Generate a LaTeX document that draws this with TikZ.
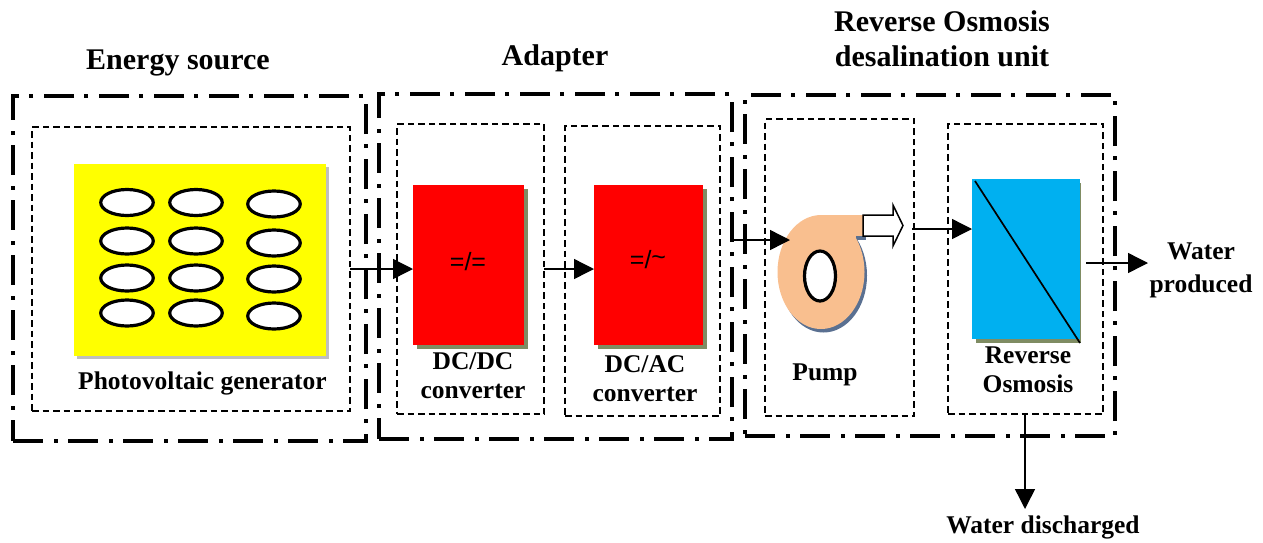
\documentclass[tikz,border=0pt]{standalone}
\usepackage{fontspec}
\setmainfont{Liberation Serif}
\setsansfont{Liberation Sans}
\usetikzlibrary{arrows.meta,shapes.geometric,calc}
\definecolor{panelyellow}{RGB}{255,255,0}
\definecolor{convred}{RGB}{255,0,0}
\definecolor{shadowgreen}{HTML}{7F8C63}
\definecolor{rowater}{HTML}{00B0F0}
\definecolor{pumpbody}{HTML}{F9BF8F}
\definecolor{pumpshadow}{HTML}{5A7091}
\tikzset{
  boxnode/.style={inner sep=0pt,outer sep=0pt},
  outerbox/.style={boxnode,draw=black,line width=3.4pt,dash pattern=on 30pt off 11pt on 4pt off 10pt},
  innerbox/.style={boxnode,draw=black,line width=1.2pt,dash pattern=on 6.5pt off 4pt},
  gencell/.style={boxnode,ellipse,draw=black,line width=3.2pt,fill=white,minimum width=52.5pt,minimum height=26pt},
  conv/.style={boxnode,fill=convred,minimum width=111pt,minimum height=160pt},
  title/.style={inner sep=0pt,font=\fontsize{30}{35}\selectfont\bfseries,align=center},
  label/.style={inner sep=0pt,font=\fontsize{25.5}{29}\selectfont\bfseries,align=center},
  symb/.style={inner sep=0pt,font=\sffamily\fontsize{25}{30}\selectfont},
  flow/.style={line width=1.4pt,-{Triangle[length=20pt,width=20pt]}},
}
\begin{document}
\begin{tikzpicture}[x=1pt,y=-1pt]
\useasboundingbox (0,0) rectangle (1263,542);
% outer groups
\node[outerbox,minimum width=353pt,minimum height=345pt] (g1) at (189.5,268.5) {};
\node[outerbox,minimum width=353pt,minimum height=345pt] (g2) at (555.5,266.5) {};
\node[outerbox,minimum width=370pt,minimum height=341pt] (g3) at (930,265.5) {};
% inner groups
\node[innerbox,minimum width=318pt,minimum height=284pt] (pv) at (191,269) {};
\node[innerbox,minimum width=147pt,minimum height=290pt] (dcdcbox) at (470.5,269) {};
\node[innerbox,minimum width=155pt,minimum height=290pt] (dcacbox) at (642.5,271) {};
\node[innerbox,minimum width=149pt,minimum height=297pt] (pumpbox) at (839.5,267.5) {};
\node[innerbox,minimum width=155pt,minimum height=290pt] (robox) at (1025.5,269) {};
% PV panel
\fill[black!25] (77,167) rectangle (329,359);
\node[boxnode,fill=panelyellow,minimum width=252pt,minimum height=192pt] (panel) at (200,260) {};
\foreach \n/\cx/\cy in {a/127/202.5,b/196/202.5,c/274/204,d/127/241,e/196/241,f/274/243,g/127/278,h/196/278,i/274/279,j/127/313,k/196/313,l/274/316}
  \node[gencell] (cell\n) at (\cx,\cy) {};
% converters
\fill[shadowgreen] (417,189) rectangle (528,349);
\node[conv] (dcdc) at (468.5,265) {};
\fill[shadowgreen] (598,189) rectangle (707,349);
\node[conv,minimum width=109pt] (dcac) at (648.5,265) {};
\node[symb] (sym1) at (468,262) {=/=};
\node[symb] (sym2) at (648,260) {=/\raisebox{3pt}{\textasciitilde}};
% pump
\fill[pumpshadow] (823.5,275.5) ellipse [x radius=43.5, y radius=57];
\fill[pumpshadow] (856,236) rectangle (866,240);
\fill[pumpbody] (821,272) ellipse [x radius=43.5, y radius=57];
\fill[pumpbody] (818,215) rectangle (863,236);
\fill[pumpbody] (830,225) rectangle (856,240);
\node[boxnode,ellipse,draw=black,line width=3.2pt,fill=white,minimum width=31pt,minimum height=50pt] (hub) at (820,276) {};
\draw[line width=1.5pt,fill=white,line join=miter] (863,215) -- (893,215) -- (893,205) -- (903,225.5) -- (893,246) -- (893,236) -- (863,236) -- cycle;
% RO membrane
\fill[shadowgreen] (976,183) rectangle (1081,343);
\node[boxnode,fill=rowater,minimum width=108pt,minimum height=160pt] (ro) at (1026,259) {};
\coordinate (roa) at (975,181);
\coordinate (rob) at (1080,343);
\draw[line width=1.7pt] (roa) -- (rob);
% connectors
\coordinate (s3) at (730,240);
\coordinate (pumpin) at (790,240);
\coordinate (s4) at (912,229);
\coordinate (s5) at (1086,263);
\coordinate (e5) at (1148,263);
\coordinate (e6) at (1025,509);
\draw[flow] (pv.east) -- (pv.east -| dcdc.west);
\draw[flow] (dcdcbox.east) -- (dcdcbox.east -| dcac.west);
\draw[flow] (s3) -- (pumpin);
\draw[flow] (s4) -- (s4 -| ro.west);
\draw[flow] (s5) -- (e5);
\draw[flow] (e6 |- robox.south) -- (e6);
% labels
\node[title] (t1) at (178,62.5) {Energy source};
\node[title] (t2) at (555,58) {Adapter};
\node[title] (t3) at (942,39) {Reverse Osmosis\\desalination unit};
\node[label] (l1) at (202.5,383) {Photovoltaic generator};
\node[label] (l2) at (473,376) {DC/DC\\converter};
\node[label] (l3) at (645,379) {DC/AC\\converter};
\node[label] (l4) at (825,375) {Pump};
\node[label] (l5) at (1028,369.5) {Reverse\\Osmosis};
\node[label] (l6) at (1201,270) {Water\\[4pt]produced};
\node[label] (l7) at (1043,527) {Water discharged};
\end{tikzpicture}
\end{document}
